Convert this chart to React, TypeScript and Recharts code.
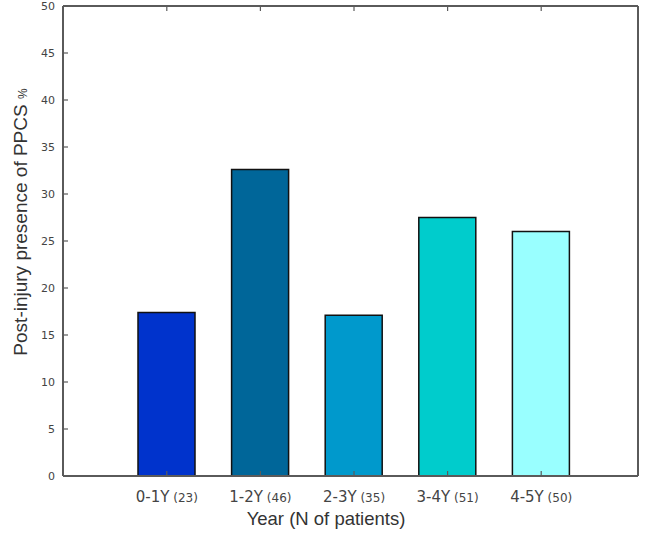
import React from 'react';
import { BarChart, Bar, XAxis, YAxis, Cell } from 'recharts';

const categories = ['0-1Y', '1-2Y', '2-3Y', '3-4Y', '4-5Y'];
const patientCounts = [23, 46, 35, 51, 50];
const presence = [17.4, 32.6, 17.1, 27.5, 26.0];
const barColors = ['#0033CC', '#006699', '#0099CC', '#00CCCC', '#99FFFF'];
const yTicks = [0, 5, 10, 15, 20, 25, 30, 35, 40, 45, 50];

const data = categories.map((c, i) => ({ year: c, n: patientCounts[i], value: presence[i] }));

const AXIS_COLOR = '#5a5a5a';
const TICK_FONT = '"DejaVu Sans", Verdana, sans-serif';
const LABEL_FONT = '"Liberation Sans", Arial, sans-serif';

const LeftTick = (props: any) => {
  const { x, y, payload } = props;
  return (
    <g>
      <line x1={x} x2={x + 5} y1={y} y2={y} stroke={AXIS_COLOR} strokeWidth={1.2} />
      <text x={x - 8} y={y} dy="0.35em" textAnchor="end" fontSize={11} fill="#444" fontFamily={TICK_FONT}>
        {payload.value}
      </text>
    </g>
  );
};

const RightTick = (props: any) => {
  const { x, y } = props;
  return <line x1={x} x2={x - 5} y1={y} y2={y} stroke={AXIS_COLOR} strokeWidth={1.2} />;
};

const BottomTick = (props: any) => {
  const { x, y, payload, index } = props;
  const n = patientCounts[index] ?? data.find((d) => d.year === payload.value)?.n;
  return (
    <g>
      <line x1={x} x2={x} y1={y} y2={y - 5} stroke={AXIS_COLOR} strokeWidth={1.2} />
      <text x={x} y={y + 26} textAnchor="middle" fill="#444" fontFamily={TICK_FONT}>
        <tspan fontSize={15}>{payload.value}</tspan>
        <tspan fontSize={12}>{` (${n})`}</tspan>
      </text>
    </g>
  );
};

const TopTick = (props: any) => {
  const { x, y } = props;
  return <line x1={x} x2={x} y1={y} y2={y + 5} stroke={AXIS_COLOR} strokeWidth={1.2} />;
};

const YLabel = () => (
  <text
    x={27}
    y={222}
    transform="rotate(-90, 27, 222)"
    textAnchor="middle"
    fill="#333"
    fontFamily={LABEL_FONT}
  >
    <tspan fontSize={19}>Post-injury presence of PPCS </tspan>
    <tspan fontSize={12}>%</tspan>
  </text>
);

const XLabel = () => (
  <text x={326} y={525} textAnchor="middle" fill="#333" fontFamily={LABEL_FONT} fontSize={18.5}>
    Year (N of patients)
  </text>
);

export default function App() {
  return (
    <div style={{ position: 'absolute', left: 0, top: 0, width: 645, height: 540, background: '#fff' }}>
      <BarChart width={645} height={540} data={data} margin={{ top: 0, right: 0, bottom: 0, left: 0 }}>
        <XAxis
          dataKey="year"
          xAxisId="bottom"
          orientation="bottom"
          height={64}
          padding={{ left: 57, right: 50 }}
          tickSize={0}
          tickMargin={0}
          tickLine={false}
          axisLine={{ stroke: AXIS_COLOR, strokeWidth: 2 }}
          tick={<BottomTick />}
          interval={0}
          label={<XLabel />}
        />
        <XAxis
          dataKey="year"
          xAxisId="top"
          orientation="top"
          height={6}
          padding={{ left: 57, right: 50 }}
          tickSize={0}
          tickMargin={0}
          tickLine={false}
          axisLine={{ stroke: AXIS_COLOR, strokeWidth: 2 }}
          tick={<TopTick />}
          interval={0}
        />
        <YAxis
          yAxisId="left"
          orientation="left"
          width={63}
          domain={[0, 50]}
          ticks={yTicks}
          interval={0}
          tickSize={0}
          tickMargin={0}
          tickLine={false}
          axisLine={{ stroke: AXIS_COLOR, strokeWidth: 2 }}
          tick={<LeftTick />}
          label={<YLabel />}
        />
        <YAxis
          yAxisId="right"
          orientation="right"
          width={7}
          domain={[0, 50]}
          ticks={yTicks}
          interval={0}
          tickSize={0}
          tickMargin={0}
          tickLine={false}
          axisLine={{ stroke: AXIS_COLOR, strokeWidth: 2 }}
          tick={<RightTick />}
        />
        <Bar
          dataKey="value"
          xAxisId="bottom"
          yAxisId="left"
          barSize={57}
          stroke="#111"
          strokeWidth={1.5}
          isAnimationActive={false}
        >
          {data.map((d, i) => (
            <Cell key={d.year} fill={barColors[i]} />
          ))}
        </Bar>
      </BarChart>
    </div>
  );
}
